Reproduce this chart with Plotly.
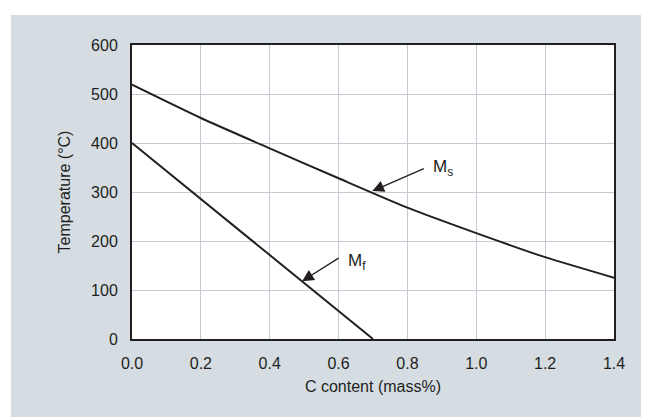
import plotly.graph_objects as go

c_content = [0.0, 0.2, 0.4, 0.6, 0.8, 1.0, 1.2, 1.4]
ms_temp = [519, 451, 389, 328, 268, 216, 167, 125]
mf_c = [0.0, 0.7]
mf_temp = [400, 0]

x_ticks = [0.0, 0.2, 0.4, 0.6, 0.8, 1.0, 1.2, 1.4]
y_ticks = [0, 100, 200, 300, 400, 500, 600]

ink = "#231f20"
fam = "Liberation Sans, Arial, sans-serif"
tick_font = dict(family=fam, size=16, color=ink)
title_font = dict(family=fam, size=16, color=ink)

fig = go.Figure()
fig.add_trace(go.Scatter(x=c_content, y=ms_temp, mode="lines",
                         line=dict(color=ink, width=2, shape="spline", smoothing=0.6),
                         hoverinfo="skip", showlegend=False))
fig.add_trace(go.Scatter(x=mf_c, y=mf_temp, mode="lines",
                         line=dict(color=ink, width=2),
                         hoverinfo="skip", showlegend=False))

# arrows
fig.add_annotation(x=0.698, y=302, ax=53, ay=-23, showarrow=True, arrowhead=2,
                   arrowsize=1.8, arrowwidth=1.3, arrowcolor=ink, text="")
fig.add_annotation(x=0.494, y=118, ax=38, ay=-24, showarrow=True, arrowhead=2,
                   arrowsize=1.8, arrowwidth=1.3, arrowcolor=ink, text="")
fig.add_annotation(x=0.868, y=349, text="M<sub>s</sub>", showarrow=False,
                   xanchor="left", font=dict(family=fam, size=17, color=ink))
fig.add_annotation(x=0.622, y=158, text="M<sub>f</sub>", showarrow=False,
                   xanchor="left", font=dict(family=fam, size=17, color=ink))

# white strips outside the grey panel (page body has an 8px offset)
fig.add_shape(type="rect", xref="paper", yref="paper", x0=-0.4, x1=1.3,
              y0=1.102, y1=1.4, fillcolor="white", line_width=0, layer="below")
fig.add_shape(type="rect", xref="paper", yref="paper", x0=-0.4, x1=-0.2513,
              y0=-0.4, y1=1.4, fillcolor="white", line_width=0, layer="below")

fig.update_xaxes(range=[0, 1.4], tickvals=x_ticks, ticktext=[f"{v:.1f}" for v in x_ticks],
                 showgrid=True, gridcolor="#c5c9d1", gridwidth=1,
                 showline=True, linecolor=ink, linewidth=2, mirror=True,
                 ticks="outside", ticklen=9, tickcolor="rgba(0,0,0,0)",
                 zeroline=False, tickfont=tick_font,
                 title=dict(text="C content (mass%)", font=title_font, standoff=10))
fig.update_yaxes(range=[0, 600], tickvals=y_ticks,
                 showgrid=True, gridcolor="#c5c9d1", gridwidth=1,
                 showline=True, linecolor=ink, linewidth=2, mirror=True,
                 ticks="outside", ticklen=9, tickcolor="rgba(0,0,0,0)",
                 zeroline=False, tickfont=tick_font,
                 title=dict(text="Temperature (°C)", font=title_font, standoff=16))

fig.update_layout(width=649, height=417,
                  margin=dict(l=124, r=43, t=37, b=86, autoexpand=False),
                  paper_bgcolor="#d5dde3", plot_bgcolor="white",
                  font=tick_font)

fig.write_html("out.html")
